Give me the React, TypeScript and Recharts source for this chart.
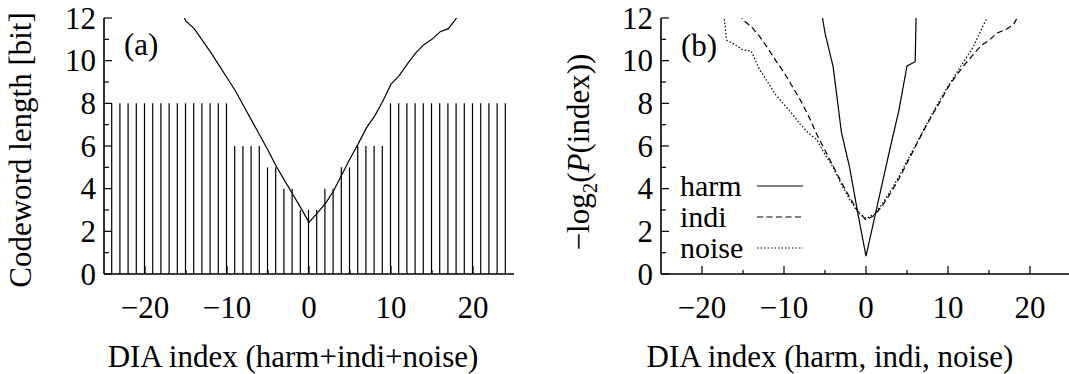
import React from 'react';
import { ComposedChart, Line, Bar, XAxis, YAxis, Legend } from 'recharts';

const FONT = '"Liberation Serif", "Times New Roman", serif';
const FS = 31;

// shared axis ticks
const xTicks = [-20, -15, -10, -5, 0, 5, 10, 15, 20];
const yTicks = [0, 1, 2, 3, 4, 5, 6, 7, 8, 9, 10, 11, 12];

// panel (a): codeword lengths per DIA index
const codewordIndex = [
  -24, -23, -22, -21, -20, -19, -18, -17, -16, -15, -14, -13, -12, -11, -10,
  -9, -8, -7, -6, -5, -4, -3, -2, -1, 0, 1, 2, 3, 4, 5, 6, 7, 8, 9,
  10, 11, 12, 13, 14, 15, 16, 17, 18, 19, 20, 21, 22, 23, 24,
];
const codewordLength = [
  8, 8, 8, 8, 8, 8, 8, 8, 8, 8, 8, 8, 8, 8, 8,
  6, 6, 6, 6, 5, 5, 4, 4, 3, 3, 3, 4, 4, 5, 5, 6, 6, 6, 6,
  8, 8, 8, 8, 8, 8, 8, 8, 8, 8, 8, 8, 8, 8, 8,
];

// panel (a): combined -log2 P curve
const combinedIndex = [
  -16, -15, -14, -13, -12, -11, -10, -9, -8, -7, -6, -5, -4, -3, -2, -1, 0,
  1, 2, 3, 4, 5, 6, 7, 8, 9, 10, 11, 12, 13, 14, 15, 16, 17, 18, 19,
];
const combinedBits = [
  12.6, 11.85, 11.5, 10.95, 10.4, 9.8, 9.2, 8.6, 7.9, 7.2, 6.5, 5.8, 5.05, 4.4, 3.75, 3.1, 2.42,
  2.85, 3.3, 3.9, 4.65, 5.4, 6.1, 6.85, 7.4, 8.1, 8.9, 9.3, 9.85, 10.35, 10.75, 11.0, 11.36, 11.5, 12.0, 12.5,
];

// panel (b): per-class -log2 P curves
const harmIndex = [-6, -5, -4, -3, -2, -1, 0, 1, 2, 3, 4, 5, 6, 7];
const harmBits = [13.6, 11.3, 9.7, 6.65, 5.0, 2.85, 0.84, 2.56, 4.28, 6.0, 7.65, 9.75, 9.95, 30];

const indiIndex = [
  -16, -15, -14, -13, -12, -11, -10, -9, -8, -7, -6, -5, -4, -3, -2, -1, 0,
  1, 2, 3, 4, 5, 6, 7, 8, 9, 10, 11, 12, 13, 14, 15, 16, 17, 18, 19,
];
const indiBits = [
  12.6, 11.9, 11.6, 11.15, 10.6, 10.0, 9.45, 8.8, 8.15, 7.4, 6.55, 5.8, 5.05, 4.3, 3.6, 2.95, 2.53,
  2.75, 3.2, 3.8, 4.45, 5.2, 5.95, 6.7, 7.4, 8.05, 8.75, 9.3, 9.8, 10.25, 10.7, 10.95, 11.3, 11.45, 11.7, 12.4,
];

const noiseIndex = [
  -18, -17, -16, -15, -14, -13, -12, -11, -10, -9, -8, -7, -6, -5, -4, -3, -2, -1, 0,
  1, 2, 3, 4, 5, 6, 7, 8, 9, 10, 11, 12, 13, 14, 15,
];
const noiseBits = [
  14.4, 10.97, 10.75, 10.5, 10.45, 9.6, 9.0, 8.4, 7.95, 7.5, 7.0, 6.6, 6.3, 5.6, 5.0, 4.2, 3.5, 2.9, 2.6,
  2.8, 3.3, 3.9, 4.55, 5.3, 6.0, 6.75, 7.45, 8.15, 8.8, 9.4, 10.0, 10.6, 11.4, 12.2,
];

const seriesB = [
  { key: 'harm', name: 'harm', dash: undefined as string | undefined },
  { key: 'indi', name: 'indi', dash: '6 3.5' },
  { key: 'noise', name: 'noise', dash: '1.5 2' },
];

type Col = { key: string; index: number[]; values: number[] };
function merge(cols: Col[]) {
  const m = new Map<number, any>();
  cols.forEach((c) =>
    c.index.forEach((x, i) => {
      const r = m.get(x) ?? { x };
      r[c.key] = c.values[i];
      m.set(x, r);
    })
  );
  return Array.from(m.values()).sort((a, b) => a.x - b.x);
}

const dataA = merge([
  { key: 'len', index: codewordIndex, values: codewordLength },
  { key: 'bits', index: combinedIndex, values: combinedBits },
]);
const dataB = merge([
  { key: 'harm', index: harmIndex, values: harmBits },
  { key: 'indi', index: indiIndex, values: indiBits },
  { key: 'noise', index: noiseIndex, values: noiseBits },
]);

const fmt = (v: number) => (v < 0 ? '\u2212' + Math.abs(v) : String(v));
const TW = 1.2;

const BottomTick = (p: any) => {
  const v = p.payload.value;
  const major = v % 10 === 0;
  return (
    <g>
      <line x1={p.x} x2={p.x} y1={p.y} y2={p.y - (major ? 8 : 4)} stroke="#000" strokeWidth={TW} />
      {major && (
        <text x={p.x} y={p.y + 44} textAnchor="middle" fontFamily={FONT} fontSize={FS} fill="#000">
          {fmt(v)}
        </text>
      )}
    </g>
  );
};
const TopTick = (p: any) => (
  <line x1={p.x} x2={p.x} y1={p.y} y2={p.y + 7} stroke="#000" strokeWidth={TW} />
);
const LeftTick = (p: any) => {
  const v = p.payload.value;
  const major = v % 2 === 0;
  return (
    <g>
      <line x1={p.x} x2={p.x + (major ? 8 : 5)} y1={p.y} y2={p.y} stroke="#000" strokeWidth={TW} />
      {major && (
        <text x={p.x - 8} y={p.y + 10.5} textAnchor="end" fontFamily={FONT} fontSize={FS} fill="#000">
          {v}
        </text>
      )}
    </g>
  );
};
const RightTick = (p: any) => {
  const v = p.payload.value;
  const major = v % 2 === 0;
  return <line x1={p.x} x2={p.x - (major ? 8 : 5)} y1={p.y} y2={p.y} stroke="#000" strokeWidth={TW} />;
};

const axisLine = { stroke: '#000', strokeWidth: 1.6 };

const LegendBox = () => (
  <svg width={130} height={100} style={{ display: 'block', overflow: 'visible' }}>
    {seriesB.map((s, i) => (
      <g key={s.key}>
        <text x={0} y={25 + i * 31} fontFamily={FONT} fontSize={30} fill="#000">
          {s.name}
        </text>
        <line
          x1={77}
          x2={123}
          y1={15 + i * 31}
          y2={15 + i * 31}
          stroke="#000"
          strokeWidth={1.2}
          strokeDasharray={s.dash}
        />
      </g>
    ))}
  </svg>
);

function axisSet(yWidth: number) {
  return [
    <XAxis
      key="xb"
      xAxisId="b"
      dataKey="x"
      type="number"
      domain={[-25, 25]}
      allowDataOverflow
      ticks={xTicks}
      interval={0}
      tick={BottomTick}
      tickLine={false}
      tickSize={0}
      tickMargin={0}
      axisLine={axisLine}
      height={100}
    />,
    <XAxis
      key="xt"
      xAxisId="t"
      dataKey="x"
      type="number"
      orientation="top"
      domain={[-25, 25]}
      allowDataOverflow
      ticks={xTicks}
      interval={0}
      tick={TopTick}
      tickLine={false}
      tickSize={0}
      tickMargin={0}
      axisLine={axisLine}
      height={0}
    />,
    <YAxis
      key="yl"
      yAxisId="l"
      type="number"
      domain={[0, 12]}
      allowDataOverflow
      ticks={yTicks}
      interval={0}
      tick={LeftTick}
      tickLine={false}
      tickSize={0}
      tickMargin={0}
      axisLine={axisLine}
      width={yWidth}
    />,
    <YAxis
      key="yr"
      yAxisId="r"
      orientation="right"
      type="number"
      domain={[0, 12]}
      allowDataOverflow
      ticks={yTicks}
      interval={0}
      tick={RightTick}
      tickLine={false}
      tickSize={0}
      tickMargin={0}
      axisLine={axisLine}
      width={0}
    />,
  ];
}

export default function App() {
  return (
    <div
      style={{
        position: 'absolute',
        left: 0,
        top: 0,
        width: 1069,
        height: 374,
        overflow: 'hidden',
        background: '#fff',
      }}
    >
      <div style={{ position: 'absolute', left: 0, top: 0 }}>
        <ComposedChart width={530} height={374} data={dataA} margin={{ top: 18, right: 16, bottom: 0, left: 0 }}>
          {axisSet(104)}
          <Bar
            xAxisId="b"
            yAxisId="l"
            dataKey="len"
            barSize={1.2}
            fill="#000"
            isAnimationActive={false}
          />
          <Line
            xAxisId="b"
            yAxisId="l"
            dataKey="bits"
            type="linear"
            stroke="#000"
            strokeWidth={1.2}
            dot={false}
            activeDot={false}
            isAnimationActive={false}
          />
        </ComposedChart>
      </div>
      <div style={{ position: 'absolute', left: 535, top: 0 }}>
        <ComposedChart width={560} height={374} data={dataB} margin={{ top: 18, right: 24, bottom: 0, left: 0 }}>
          {axisSet(126)}
          {seriesB.map((s) => (
            <Line
              key={s.key}
              xAxisId="b"
              yAxisId="l"
              dataKey={s.key}
              name={s.name}
              type="linear"
              stroke="#000"
              strokeWidth={1.2}
              strokeDasharray={s.dash}
              dot={false}
              activeDot={false}
              isAnimationActive={false}
            />
          ))}
          <Legend
            layout="vertical"
            align="center"
            verticalAlign="middle"
            content={() => <LegendBox />}
            wrapperStyle={{ left: 145, top: 171, width: 130, height: 100 }}
          />
        </ComposedChart>
      </div>
      <svg
        width={1069}
        height={374}
        style={{ position: 'absolute', left: 0, top: 0, pointerEvents: 'none' }}
        fontFamily={FONT}
        fontSize={FS}
        fill="#000"
      >
        <text x={124} y={55}>(a)</text>
        <text x={681} y={56}>(b)</text>
        <text textAnchor="middle" transform="translate(31,150) rotate(-90)">
          Codeword length [bit]
        </text>
        <text textAnchor="middle" transform="translate(589,152) rotate(-90)">
          {'\u2212log'}
          <tspan dy={8} fontSize={21}>2</tspan>
          <tspan dy={-8}>(</tspan>
          <tspan fontStyle="italic">P</tspan>
          <tspan>(index))</tspan>
        </text>
        <text x={293} y={367} textAnchor="middle">DIA index (harm+indi+noise)</text>
        <text x={830} y={367} textAnchor="middle">DIA index (harm, indi, noise)</text>
      </svg>
    </div>
  );
}
